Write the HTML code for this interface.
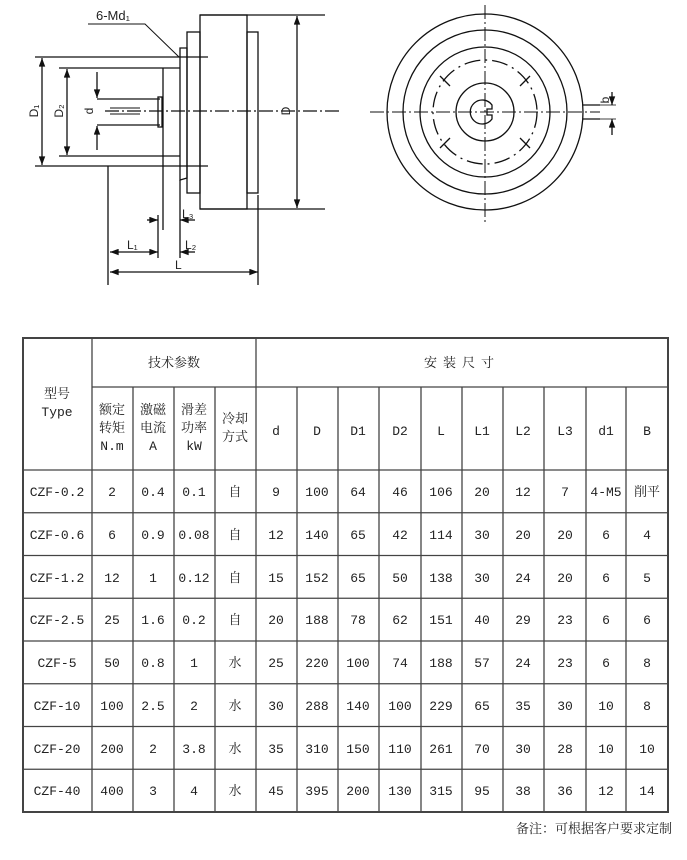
<!DOCTYPE html>
<html><head><meta charset="utf-8"><style>
html,body{margin:0;padding:0;background:#fff;width:687px;height:860px;overflow:hidden}
svg{display:block}
text{font-family:"Liberation Mono","Noto Serif CJK SC",monospace;font-size:13px;fill:#222}
.c{font-family:"Liberation Sans","Noto Sans CJK SC",sans-serif}
</style></head><body>
<svg width="687" height="860" viewBox="0 0 687 860" xmlns="http://www.w3.org/2000/svg">
<defs>
<marker id="a" viewBox="0 0 8 6" refX="8" refY="3" markerWidth="7" markerHeight="5" orient="auto-start-reverse"><path d="M0,0L8,3L0,6z" fill="#111"/></marker>
</defs>
<g stroke="#111" stroke-width="1.3" fill="none">
<line x1="35" y1="57" x2="208" y2="57"/><line x1="35" y1="166" x2="208" y2="166"/>
<line x1="59" y1="68" x2="180" y2="68"/><line x1="59" y1="156" x2="180" y2="156"/>
<line x1="42" y1="58" x2="42" y2="165" marker-start="url(#a)" marker-end="url(#a)"/>
<line x1="67" y1="69" x2="67" y2="155" marker-start="url(#a)" marker-end="url(#a)"/>
<line x1="97" y1="72" x2="97" y2="98" marker-end="url(#a)"/><line x1="97" y1="150" x2="97" y2="126" marker-end="url(#a)"/>
<line x1="97" y1="99" x2="160" y2="99"/><line x1="97" y1="125" x2="160" y2="125"/>
<rect x="158" y="97" width="4" height="30"/>
<line x1="163" y1="68" x2="163" y2="230"/>
<path d="M180 180V48h7v130z"/>
<rect x="187" y="32" width="13" height="161"/>
<rect x="200" y="15" width="47" height="194"/>
<rect x="247" y="32" width="11" height="161"/>
<line x1="200" y1="15" x2="325" y2="15"/><line x1="200" y1="209" x2="325" y2="209"/>
<line x1="297" y1="16" x2="297" y2="208" marker-start="url(#a)" marker-end="url(#a)"/>
<line x1="105" y1="111" x2="340" y2="111" stroke-dasharray="14 3 2 3"/>
<line x1="110" y1="108" x2="140" y2="108" stroke-width="1"/><line x1="110" y1="114" x2="140" y2="114" stroke-width="1"/>
<line x1="108" y1="166" x2="108" y2="285"/><line x1="158" y1="215" x2="158" y2="258"/>
<line x1="180" y1="180" x2="180" y2="258"/><line x1="258" y1="195" x2="258" y2="285"/>
<line x1="147" y1="220" x2="158" y2="220" marker-end="url(#a)"/><line x1="195" y1="220" x2="180" y2="220" marker-end="url(#a)"/>
<line x1="110" y1="252" x2="158" y2="252" marker-start="url(#a)" marker-end="url(#a)"/>
<line x1="195" y1="252" x2="180" y2="252" marker-end="url(#a)"/>
<line x1="110" y1="272" x2="258" y2="272" marker-start="url(#a)" marker-end="url(#a)"/>
<polyline points="88,24 145,24 179,57" stroke-width="1"/>
<circle cx="485" cy="112" r="98"/><circle cx="485" cy="112" r="82"/><circle cx="485" cy="112" r="65"/>
<circle cx="485" cy="112" r="52" stroke-dasharray="16 5 2 5"/>
<circle cx="485" cy="112" r="29"/>
<path d="M492 105A12 12 0 1 0 492 119L492 115L487 115L487 109L492 109Z"/>
<line x1="485" y1="5" x2="485" y2="225" stroke-dasharray="14 3 2 3" stroke-width="1"/>
<line x1="370" y1="112" x2="600" y2="112" stroke-dasharray="14 3 2 3" stroke-width="1"/>
<path d="M583 105h17M583 119h17"/>
<line x1="612" y1="92" x2="612" y2="105" marker-end="url(#a)"/><line x1="612" y1="135" x2="612" y2="119" marker-end="url(#a)"/>
<line x1="600" y1="105" x2="616" y2="105" stroke-width="0.8"/><line x1="600" y1="119" x2="616" y2="119" stroke-width="0.8"/>
<path d="M440 76l10 10M530 76l-10 10M440 148l10-10M530 148l-10-10"/>
</g>
<g>
<text class="c" x="96" y="20" style="font-size:13px">6-Md₁</text>
<text class="c" x="182" y="218" style="font-size:12px">L₃</text>
<text class="c" x="127" y="249" style="font-size:12px">L₁</text>
<text class="c" x="185" y="249" style="font-size:12px">L₂</text>
<text class="c" x="175" y="269" style="font-size:12px">L</text>
<text class="c" transform="translate(38,111) rotate(-90)" text-anchor="middle" style="font-size:12px">D₁</text>
<text class="c" transform="translate(63,111) rotate(-90)" text-anchor="middle" style="font-size:12px">D₂</text>
<text class="c" transform="translate(93,111) rotate(-90)" text-anchor="middle" style="font-size:12px">d</text>
<text class="c" transform="translate(290,111) rotate(-90)" text-anchor="middle" style="font-size:12px">D</text>
<text class="c" transform="translate(609,100) rotate(-90)" text-anchor="middle" style="font-size:12px">b</text>
</g>
<g stroke="#444" stroke-width="1.3">
<rect x="23" y="338" width="645" height="474" fill="none" stroke-width="2"/>
<line x1="92" y1="387" x2="668" y2="387"/>
<line x1="23" y1="470" x2="668" y2="470"/>
<line x1="23" y1="512.75" x2="668" y2="512.75"/><line x1="23" y1="555.5" x2="668" y2="555.5"/>
<line x1="23" y1="598.25" x2="668" y2="598.25"/><line x1="23" y1="641" x2="668" y2="641"/>
<line x1="23" y1="683.75" x2="668" y2="683.75"/><line x1="23" y1="726.5" x2="668" y2="726.5"/>
<line x1="23" y1="769.25" x2="668" y2="769.25"/>
<line x1="92" y1="338" x2="92" y2="812"/><line x1="256" y1="338" x2="256" y2="812"/>
<line x1="133" y1="387" x2="133" y2="812"/><line x1="174" y1="387" x2="174" y2="812"/><line x1="215" y1="387" x2="215" y2="812"/>
<line x1="297" y1="387" x2="297" y2="812"/><line x1="338" y1="387" x2="338" y2="812"/><line x1="379" y1="387" x2="379" y2="812"/>
<line x1="421" y1="387" x2="421" y2="812"/><line x1="462" y1="387" x2="462" y2="812"/><line x1="503" y1="387" x2="503" y2="812"/>
<line x1="544" y1="387" x2="544" y2="812"/><line x1="586" y1="387" x2="586" y2="812"/><line x1="626" y1="387" x2="626" y2="812"/>
</g>
<g text-anchor="middle">
<text x="174" y="367">技术参数</text>
<text x="462" y="367" letter-spacing="6">安装尺寸</text>
<text x="57" y="398">型号</text><text x="57" y="416">Type</text>
<text x="112" y="414">额定</text><text x="112" y="432">转矩</text><text x="112" y="450">N.m</text>
<text x="153" y="414">激磁</text><text x="153" y="432">电流</text><text x="153" y="450">A</text>
<text x="194" y="414">滑差</text><text x="194" y="432">功率</text><text x="194" y="450">kW</text>
<text x="235" y="423">冷却</text><text x="235" y="441">方式</text>
<text x="276" y="435">d</text><text x="317" y="435">D</text><text x="358" y="435">D1</text><text x="400" y="435">D2</text>
<text x="441" y="435">L</text><text x="482" y="435">L1</text><text x="523" y="435">L2</text><text x="565" y="435">L3</text>
<text x="606" y="435">d1</text><text x="647" y="435">B</text>
</g>
<g text-anchor="middle">
<g transform="translate(0,496)"><text x="57">CZF-0.2</text><text x="112">2</text><text x="153">0.4</text><text x="194">0.1</text><text x="235">自</text><text x="276">9</text><text x="317">100</text><text x="358">64</text><text x="400">46</text><text x="441">106</text><text x="482">20</text><text x="523">12</text><text x="565">7</text><text x="606">4-M5</text><text x="647">削平</text></g>
<g transform="translate(0,539)"><text x="57">CZF-0.6</text><text x="112">6</text><text x="153">0.9</text><text x="194">0.08</text><text x="235">自</text><text x="276">12</text><text x="317">140</text><text x="358">65</text><text x="400">42</text><text x="441">114</text><text x="482">30</text><text x="523">20</text><text x="565">20</text><text x="606">6</text><text x="647">4</text></g>
<g transform="translate(0,582)"><text x="57">CZF-1.2</text><text x="112">12</text><text x="153">1</text><text x="194">0.12</text><text x="235">自</text><text x="276">15</text><text x="317">152</text><text x="358">65</text><text x="400">50</text><text x="441">138</text><text x="482">30</text><text x="523">24</text><text x="565">20</text><text x="606">6</text><text x="647">5</text></g>
<g transform="translate(0,624)"><text x="57">CZF-2.5</text><text x="112">25</text><text x="153">1.6</text><text x="194">0.2</text><text x="235">自</text><text x="276">20</text><text x="317">188</text><text x="358">78</text><text x="400">62</text><text x="441">151</text><text x="482">40</text><text x="523">29</text><text x="565">23</text><text x="606">6</text><text x="647">6</text></g>
<g transform="translate(0,667)"><text x="57">CZF-5</text><text x="112">50</text><text x="153">0.8</text><text x="194">1</text><text x="235">水</text><text x="276">25</text><text x="317">220</text><text x="358">100</text><text x="400">74</text><text x="441">188</text><text x="482">57</text><text x="523">24</text><text x="565">23</text><text x="606">6</text><text x="647">8</text></g>
<g transform="translate(0,710)"><text x="57">CZF-10</text><text x="112">100</text><text x="153">2.5</text><text x="194">2</text><text x="235">水</text><text x="276">30</text><text x="317">288</text><text x="358">140</text><text x="400">100</text><text x="441">229</text><text x="482">65</text><text x="523">35</text><text x="565">30</text><text x="606">10</text><text x="647">8</text></g>
<g transform="translate(0,753)"><text x="57">CZF-20</text><text x="112">200</text><text x="153">2</text><text x="194">3.8</text><text x="235">水</text><text x="276">35</text><text x="317">310</text><text x="358">150</text><text x="400">110</text><text x="441">261</text><text x="482">70</text><text x="523">30</text><text x="565">28</text><text x="606">10</text><text x="647">10</text></g>
<g transform="translate(0,795)"><text x="57">CZF-40</text><text x="112">400</text><text x="153">3</text><text x="194">4</text><text x="235">水</text><text x="276">45</text><text x="317">395</text><text x="358">200</text><text x="400">130</text><text x="441">315</text><text x="482">95</text><text x="523">38</text><text x="565">36</text><text x="606">12</text><text x="647">14</text></g>
</g>
<text x="672" y="833" text-anchor="end">备注：可根据客户要求定制</text>
</svg>
</body></html>
